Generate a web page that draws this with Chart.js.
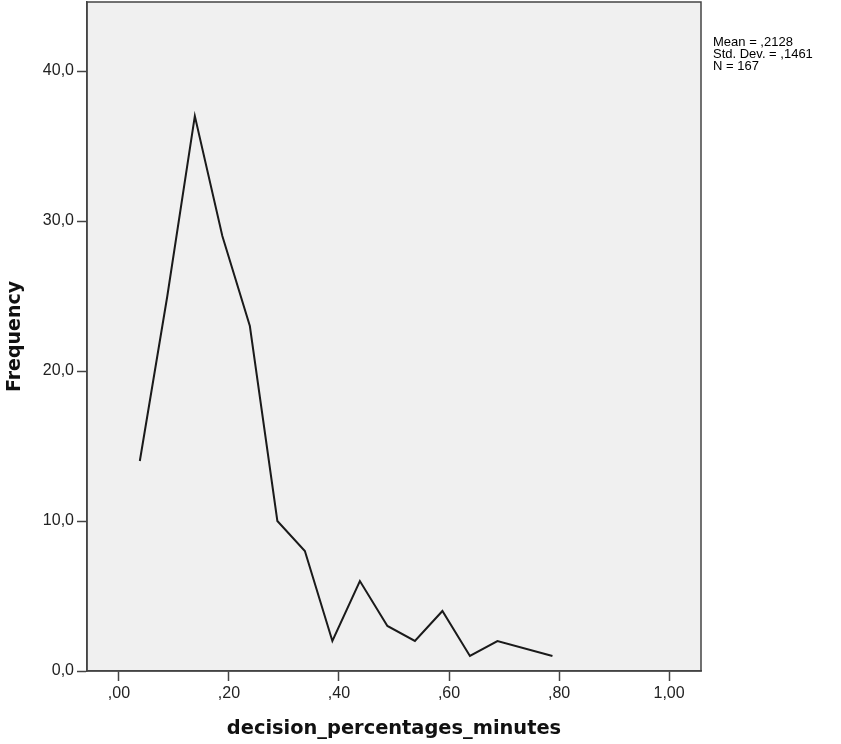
<!DOCTYPE html>
<html lang="en">
<head>
<meta charset="UTF-8">
<title>decision_percentages_minutes</title>
<script src="https://cdn.jsdelivr.net/npm/chart.js"></script>
<style>
    body { margin: 0; background: #ffffff; }
    #wrap { width: 841px; height: 744px; }
</style>
</head>
<body>
<div id="wrap"><canvas id="chart" width="841" height="744"></canvas></div>
<script>
// bin midpoints and frequencies
const binMids = [0.038, 0.088, 0.138, 0.188, 0.238, 0.288, 0.338, 0.388, 0.438, 0.488, 0.538, 0.588, 0.638, 0.688, 0.788];
const freqs = [14, 25, 37, 29, 23, 10, 8, 2, 6, 3, 2, 4, 1, 2, 1];

const xTicks = [0, 0.2, 0.4, 0.6, 0.8, 1.0];
const xTickLabels = [',00', ',20', ',40', ',60', ',80', '1,00'];
const yTicks = [0, 10, 20, 30, 40];
const yTickLabels = ['0,0', '10,0', '20,0', '30,0', '40,0'];
const statsLines = ['Mean = ,2128', 'Std. Dev. = ,1461', 'N = 167'];

// grey plot background + frame, stats text at the right
const framePlugin = {
    id: 'frame',
    beforeDraw(chart) {
        const { ctx, chartArea: a } = chart;
        ctx.save();
        ctx.fillStyle = '#f0f0f0';
        ctx.fillRect(a.left, a.top, a.right - a.left, a.bottom - a.top);
        ctx.restore();
    },
    afterDraw(chart) {
        const { ctx, chartArea: a } = chart;
        ctx.save();
        ctx.strokeStyle = '#444444';
        ctx.lineWidth = 1.5;
        ctx.strokeRect(a.left, a.top, a.right - a.left, a.bottom - a.top);
        ctx.fillStyle = '#000000';
        ctx.font = '13px "Liberation Sans", Arial, sans-serif';
        ctx.textBaseline = 'middle';
        statsLines.forEach((t, i) => ctx.fillText(t, a.right + 12, 42 + i * 12));
        ctx.restore();
    }
};

function noPad(s) {
    s.paddingTop = 0;
    s.paddingBottom = 0;
    s.paddingLeft = 0;
    s.paddingRight = 0;
}

const ctx = document.getElementById('chart').getContext('2d');
new Chart(ctx, {
    type: 'line',
    data: {
        datasets: [{
            data: binMids.map((x, i) => ({ x: x, y: freqs[i] })),
            borderColor: '#1a1a1a',
            borderWidth: 2,
            pointRadius: 0,
            tension: 0,
            fill: false
        }]
    },
    options: {
        responsive: false,
        animation: false,
        layout: { padding: { top: 2, right: 140, left: 0, bottom: 0 } },
        plugins: { legend: { display: false }, tooltip: { enabled: false } },
        scales: {
            x: {
                type: 'linear',
                min: -0.058,
                max: 1.058,
                afterBuildTicks: s => { s.ticks = xTicks.map(v => ({ value: v })); },
                afterFit: s => { s.height = 73; noPad(s); },
                grid: { drawOnChartArea: false, tickLength: 10, color: '#444444', tickWidth: 1.5 },
                border: { color: '#444444', width: 1.5 },
                ticks: {
                    color: '#222222',
                    padding: 3,
                    maxRotation: 0,
                    font: { family: '"Liberation Sans", Arial, sans-serif', size: 16 },
                    callback: v => { const i = xTicks.indexOf(v); return i >= 0 ? xTickLabels[i] : ''; }
                },
                title: {
                    display: true,
                    text: 'decision_percentages_minutes',
                    color: '#111111',
                    padding: { top: 5, bottom: 3 },
                    font: { family: '"DejaVu Sans", sans-serif', size: 19.4, weight: 'bold' }
                }
            },
            y: {
                min: 0,
                max: 44.6,
                afterBuildTicks: s => { s.ticks = yTicks.map(v => ({ value: v })); },
                afterFit: s => { s.width = 87; noPad(s); },
                grid: { drawOnChartArea: false, tickLength: 10, color: '#444444', tickWidth: 1.5 },
                border: { color: '#444444', width: 1.5 },
                ticks: {
                    color: '#222222',
                    padding: 3,
                    font: { family: '"Liberation Sans", Arial, sans-serif', size: 16 },
                    callback: v => { const i = yTicks.indexOf(v); return i >= 0 ? yTickLabels[i] : ''; }
                },
                title: {
                    display: true,
                    text: 'Frequency',
                    color: '#111111',
                    padding: { top: 4, bottom: 4 },
                    font: { family: '"DejaVu Sans", sans-serif', size: 19, weight: 'bold' }
                }
            }
        }
    },
    plugins: [framePlugin]
});
</script>
</body>
</html>
